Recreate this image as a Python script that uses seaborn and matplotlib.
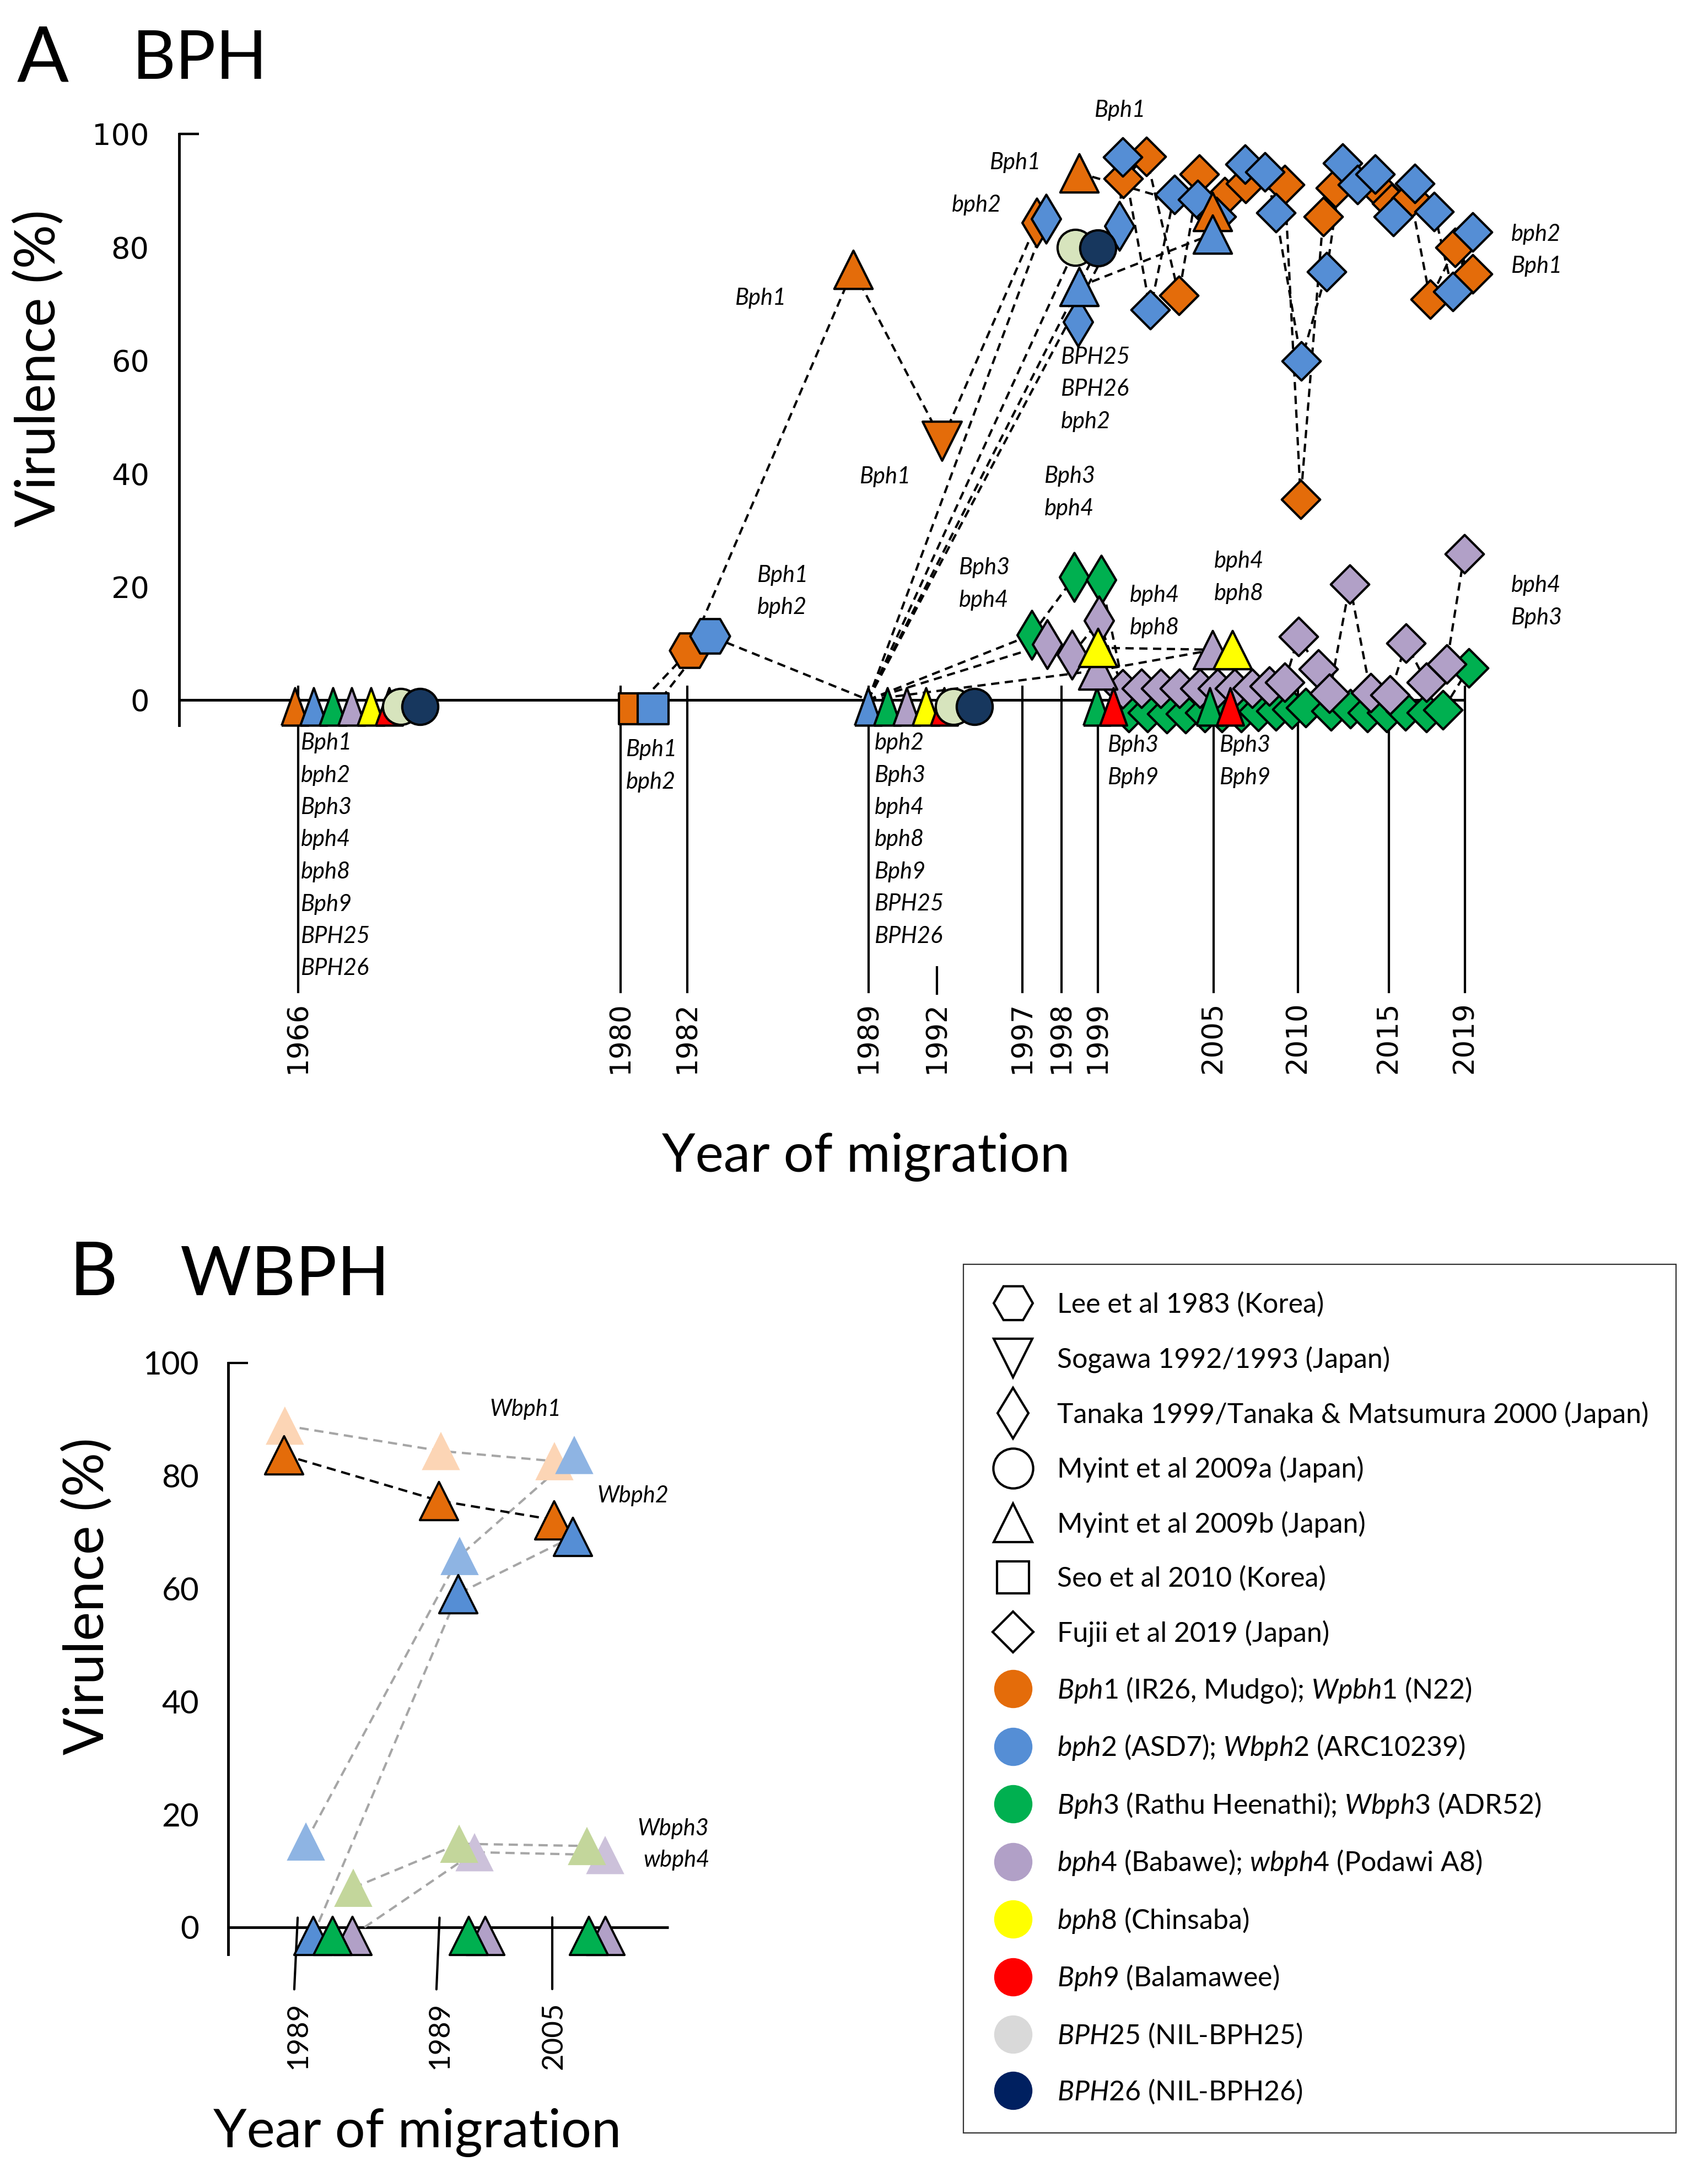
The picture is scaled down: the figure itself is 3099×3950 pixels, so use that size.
import numpy as np
import matplotlib
matplotlib.use("Agg")
import matplotlib.pyplot as plt
from matplotlib.lines import Line2D
from matplotlib.markers import MarkerStyle
import seaborn as sns

sns.set_theme(style="white")
plt.rcParams.update({
    "font.family": ["Lato", "DejaVu Sans"],
    "mathtext.fontset": "custom",
    "mathtext.rm": "Lato",
    "mathtext.it": "Lato:italic",
    "axes.edgecolor": "black",
    "xtick.color": "black",
    "ytick.color": "black",
    "text.color": "black",
    "axes.unicode_minus": False,
})

W, H, DPI = 3099, 3950, 100
fig = plt.figure(figsize=(W / DPI, H / DPI), dpi=DPI, facecolor="white")


def rect(x0, y0, x1, y1):
    return [x0 / W, 1 - y1 / H, (x1 - x0) / W, (y1 - y0) / H]


def ftext(px, py, s, **kw):
    return fig.text(px / W, 1 - py / H, s, **kw)


# ---------------- colours ----------------
ORANGE, BLUE, GREEN, PURPLE = "#E46C0A", "#558ED5", "#00B050", "#B1A0C7"
YELLOW, RED, NIL25, NIL26 = "#FFFF00", "#FF0000", "#D7E4BD", "#17375E"
PEACH, LBLUE, LGREEN, LPURPLE = "#FCD5B5", "#8EB4E3", "#C3D69B", "#CCC1DA"
LEG25, LEG26 = "#D9D9D9", "#002060"
GREY = "#A6A6A6"

# =====================================================================
# DATA  -- Panel A (BPH).  x = year of migration (schematic timeline,
# fractional offsets separate overlapping symbols), y = virulence (%)
# (0 % values are drawn just below the baseline as in the original)
# =====================================================================
year_ticks_a = [1966, 1980, 1982, 1989, 1992, 1997, 1998, 1999, 2005, 2010, 2015, 2019]
timeline_pos_a = [541, 1126, 1247, 1576, 1700, 1855, 1926, 1992, 2202, 2355, 2520, 2658]

# Myint et al 2009b (triangles)
myintb_bph1_x = [1965.86, 1988.40, 1998.48, 2004.94]
myintb_bph1_v = [-1.2, 76.0, 93.1, 86.3]
myintb_bph2_x = [1966.67, 1988.98, 1998.48, 2004.94]
myintb_bph2_v = [-1.2, -1.2, 73.0, 82.3]
myintb_bph3_x = [1967.51, 1989.82, 1998.97, 2004.80]
myintb_bph3_v = [-1.2, -1.2, -1.2, -1.2]
myintb_bph4_x = [1968.32, 1990.67, 1999.00, 2004.94]
myintb_bph4_v = [-1.2, -1.2, 5.2, 8.8]
myintb_bph8_x = [1969.16, 1991.52, 1999.00, 2006.11]
myintb_bph8_v = [-1.2, -1.2, 9.2, 8.8]
myintb_bph9_x = [1969.95, 1992.42, 1999.80, 2005.98]
myintb_bph9_v = [-1.2, -1.2, -1.2, -1.2]

# Myint et al 2009a (circles)
myinta_bph25_x = [1970.45, 1992.97, 1998.38]
myinta_bph25_v = [-1.2, -1.2, 79.9]
myinta_bph26_x = [1971.29, 1994.19, 1999.00]
myinta_bph26_v = [-1.2, -1.2, 79.8]

# Seo et al 2010 (squares), Lee et al 1983 (hexagons), Sogawa (inverted triangle)
seo_x, seo_v = [1980.41, 1980.98], [-1.6, -1.6]
lee_x, lee_v = [1982.09, 1982.87], [8.7, 11.3]
sogawa_x, sogawa_v = [1992.29], [45.8]

# Tanaka 1999 / Tanaka & Matsumura 2000 (thin diamonds)
tanaka_bph1_x, tanaka_bph1_v = [1997.37], [84.3]
tanaka_bph2_x, tanaka_bph2_v = [1997.61, 1998.45, 2000.11], [85.0, 66.8, 83.7]
tanaka_bph3_x, tanaka_bph3_v = [1997.24, 1998.35, 1999.17], [11.5, 21.7, 21.2]
tanaka_bph4_x, tanaka_bph4_v = [1997.63, 1998.29, 1999.06], [9.8, 8.0, 14.0]

# Fujii et al 2019 (diamonds)
fujii_bph1_x = [2000.31, 2001.51, 2003.20, 2004.26, 2005.65, 2006.90, 2009.22, 2010.15,
                2011.39, 2012.06, 2014.67, 2015.14, 2016.16, 2017.17, 2018.48, 2019.41]
fujii_bph1_v = [92.1, 96.0, 71.5, 92.9, 88.9, 91.2, 91.0, 35.4,
                85.4, 90.5, 89.5, 87.7, 88.6, 70.8, 79.9, 75.3]
fujii_bph2_x = [2000.29, 2001.71, 2002.97, 2004.17, 2005.16, 2006.86, 2008.04, 2008.69, 2010.18,
                2011.58, 2012.45, 2013.27, 2014.24, 2015.23, 2016.36, 2017.38, 2018.36, 2019.41]
fujii_bph2_v = [95.9, 68.9, 89.3, 88.4, 85.4, 94.6, 93.3, 86.1, 59.9,
                75.7, 94.8, 91.0, 92.9, 85.4, 91.2, 86.3, 72.1, 82.7]
fujii_bph3_x = [2000.60, 2001.57, 2002.57, 2003.54, 2004.54, 2005.49, 2006.63, 2007.65, 2008.69,
                2009.64, 2010.42, 2011.82, 2012.88, 2013.82, 2014.88, 2015.87, 2016.97, 2017.84, 2019.20]
fujii_bph3_v = [-2.3, -2.3, -2.5, -2.5, -2.3, -2.3, -2.3, -2.1, -2.0,
                -1.7, -1.4, -2.0, -1.6, -2.3, -2.3, -2.0, -2.3, -1.8, 5.6]
fujii_bph4_x = [2000.29, 2001.26, 2002.26, 2003.23, 2004.29, 2005.23, 2006.24, 2007.29, 2008.30, 2009.22,
                2010.03, 2011.12, 2011.73, 2012.85, 2014.00, 2015.06, 2015.90, 2016.97, 2018.04, 2018.97]
fujii_bph4_v = [1.9, 2.0, 2.0, 2.0, 2.0, 2.0, 2.0, 2.0, 2.4, 3.1,
                11.2, 5.4, 1.1, 20.4, 1.2, 0.9, 10.0, 3.1, 6.3, 25.8]

# gene annotations (text blocks)
gene_blocks_a = [
    (1986, 200, ["Bph1"]), (1796, 295, ["Bph1"]), (1727, 372, ["bph2"]),
    (1334, 541, ["Bph1"]), (1560, 865, ["Bph1"]),
    (1925, 648, ["BPH25", "BPH26", "bph2"]), (1895, 864, ["Bph3", "bph4"]),
    (2742, 425, ["bph2", "Bph1"]), (1374, 1044, ["Bph1", "bph2"]),
    (1740, 1030, ["Bph3", "bph4"]), (2050, 1080, ["bph4", "bph8"]),
    (2203, 1018, ["bph4", "bph8"]), (2742, 1062, ["bph4", "Bph3"]),
    (2010, 1352, ["Bph3", "Bph9"]), (2213, 1352, ["Bph3", "Bph9"]),
    (1587, 1348, ["bph2", "Bph3", "bph4", "bph8", "Bph9", "BPH25", "BPH26"]),
    (546, 1348, ["Bph1", "bph2", "Bph3", "bph4", "bph8", "Bph9", "BPH25", "BPH26"]),
    (1136, 1360, ["Bph1", "bph2"]),
]

# =====================================================================
# DATA  -- Panel B (WBPH).  x = collection set index (0: 1989, 1: 1989, 2: 2005)
# =====================================================================
year_labels_b = ["1989", "1989", "2005"]
set_pos_b = [537, 795, 1002]
b_peach_x, b_peach_v = [-0.078, 1.024, 2.019], [88.9, 84.4, 82.6]
b_lblue_x, b_lblue_v = [0.070, 1.188, 2.193], [15.2, 65.8, 83.7]
b_lgreen_x, b_lgreen_v = [0.403, 1.184, 2.304], [7.0, 14.8, 14.4]
b_lpurple_x, b_lpurple_v = [1.319, 2.464], [13.3, 12.8]
b_orange_x, b_orange_v = [-0.085, 1.005, 2.014], [83.7, 75.6, 72.2]
b_blue_x, b_blue_v = [0.120, 1.174, 2.179], [-1.5, 59.1, 69.2]
b_green_x, b_green_v = [0.256, 1.266, 2.319], [-1.5, -1.5, -1.5]
b_purple_x, b_purple_v = [0.395, 1.411, 2.464], [-1.5, -1.5, -1.5]
gene_labels_b = [(888, 2557, "Wbph1"), (1083, 2714, "Wbph2"), (1156, 3318, "Wbph3"), (1167, 3375, "wbph4")]

# =====================================================================
# helpers
# =====================================================================
NARROW = MarkerStyle([(-0.36, -0.5), (0.36, -0.5), (0.0, 0.5), (-0.36, -0.5)])


def schematic_scale(ax, data_anchor, pos_anchor):
    d = np.asarray(data_anchor, float)
    p = np.asarray(pos_anchor, float)
    fwd = lambda x: np.interp(x, d, p)
    inv = lambda y: np.interp(y, p, d)
    ax.set_xscale("function", functions=(fwd, inv))
    return fwd, inv


def pts(ax, x, y, color, marker, size, z, edge="black", lw=3.0):
    sns.scatterplot(x=list(x), y=list(y), ax=ax, color=color, marker=marker,
                    s=size ** 2, edgecolor=edge, linewidth=lw, zorder=z,
                    clip_on=False, legend=False)


def dashed(ax, xs, ys, color="black", lw=3.0, z=2, dash=(3.6, 2.4)):
    ax.plot(xs, ys, color=color, lw=lw, ls=(0, dash), zorder=z, clip_on=False,
            dash_capstyle="butt")


def myint_tri(ax, x, v, color, z):
    x = np.asarray(x); v = np.asarray(v)
    low = v < 0
    if low.any():
        pts(ax, x[low], v[low], color, NARROW, 49, z)
    if (~low).any():
        pts(ax, x[~low], v[~low], color, "^", 50, z)


# =====================================================================
# Panel A
# =====================================================================
axA = fig.add_axes(rect(325, 243, 2900, 1316))
axA.set_facecolor("none")
anchors_y = [1900] + year_ticks_a + [2100]
anchors_p = [541 - 66 * 41.79] + timeline_pos_a + [2658 + 81 * 34.5]
fwdA, invA = schematic_scale(axA, anchors_y, anchors_p)

# dashed connections
dashed(axA, [seo_x[0], lee_x[0], myintb_bph1_x[1], sogawa_x[0], tanaka_bph1_x[0]],
       [seo_v[0], lee_v[0], myintb_bph1_v[1], sogawa_v[0], tanaka_bph1_v[0]])
dashed(axA, [seo_x[1], lee_x[1], myintb_bph2_x[1]], [seo_v[1], lee_v[1], 0])
for tx, tv in [(tanaka_bph2_x[0], tanaka_bph2_v[0]), (myinta_bph25_x[2], myinta_bph25_v[2]),
               (myinta_bph26_x[2], myinta_bph26_v[2]), (tanaka_bph2_x[2], tanaka_bph2_v[2]),
               (tanaka_bph3_x[0], tanaka_bph3_v[0]), (tanaka_bph4_x[0], tanaka_bph4_v[0]),
               (myintb_bph4_x[2], myintb_bph4_v[2])]:
    dashed(axA, [myintb_bph2_x[1], tx], [0, tv])
dashed(axA, [tanaka_bph2_x[2], fujii_bph2_x[0]], [tanaka_bph2_v[2], fujii_bph2_v[0]])
dashed(axA, myintb_bph1_x[2:], myintb_bph1_v[2:])
dashed(axA, myintb_bph2_x[2:], myintb_bph2_v[2:])
dashed(axA, myintb_bph4_x[2:], myintb_bph4_v[2:])
dashed(axA, myintb_bph8_x[2:], myintb_bph8_v[2:])
dashed(axA, tanaka_bph3_x + fujii_bph3_x[:1], tanaka_bph3_v + fujii_bph3_v[:1])
dashed(axA, tanaka_bph4_x + fujii_bph4_x[:1], tanaka_bph4_v + fujii_bph4_v[:1])
for fx, fv in [(fujii_bph3_x, fujii_bph3_v), (fujii_bph4_x, fujii_bph4_v),
               (fujii_bph1_x, fujii_bph1_v), (fujii_bph2_x, fujii_bph2_v)]:
    dashed(axA, fx, fv)

# markers
pts(axA, fujii_bph3_x, fujii_bph3_v, GREEN, "D", 35.5, 4.0)
pts(axA, fujii_bph4_x, fujii_bph4_v, PURPLE, "D", 35.5, 4.1)
pts(axA, fujii_bph1_x, fujii_bph1_v, ORANGE, "D", 35.5, 4.2)
pts(axA, fujii_bph2_x, fujii_bph2_v, BLUE, "D", 35.5, 4.3)
pts(axA, tanaka_bph3_x, tanaka_bph3_v, GREEN, "d", 45, 7.0)
pts(axA, tanaka_bph4_x, tanaka_bph4_v, PURPLE, "d", 45, 7.1)
pts(axA, tanaka_bph1_x, tanaka_bph1_v, ORANGE, "d", 45, 7.2)
pts(axA, tanaka_bph2_x, tanaka_bph2_v, BLUE, "d", 45, 7.3)
for (mx, mv, col, z) in [(myintb_bph1_x, myintb_bph1_v, ORANGE, 8.0),
                         (myintb_bph2_x, myintb_bph2_v, BLUE, 8.1),
                         (myintb_bph3_x, myintb_bph3_v, GREEN, 8.2),
                         (myintb_bph4_x, myintb_bph4_v, PURPLE, 8.3),
                         (myintb_bph8_x, myintb_bph8_v, YELLOW, 8.4),
                         (myintb_bph9_x, myintb_bph9_v, RED, 8.5)]:
    myint_tri(axA, mx, mv, col, z)
pts(axA, myinta_bph25_x, myinta_bph25_v, NIL25, "o", 47, 9.0)
pts(axA, myinta_bph26_x, myinta_bph26_v, NIL26, "o", 47, 9.1)
pts(axA, seo_x[:1], seo_v[:1], ORANGE, "s", 40, 8.6)
pts(axA, seo_x[1:], seo_v[1:], BLUE, "s", 40, 8.7)
pts(axA, lee_x[:1], lee_v[:1], ORANGE, "H", 52, 8.6)
pts(axA, lee_x[1:], lee_v[1:], BLUE, "H", 52, 8.7)
pts(axA, sogawa_x, sogawa_v, ORANGE, "v", 51, 8.6)

# axis decorations
xl = (float(invA(325)), float(invA(2900)))
axA.hlines(0, xl[0], 2019, color="black", lw=3.5, zorder=1.5)
axA.vlines([y for y in year_ticks_a if y != 1992], 2.5, -51.8, color="black", lw=3.0,
           zorder=1, clip_on=False)
axA.vlines([1992], -47.1, -52.1, color="black", lw=3.0, zorder=1, clip_on=False)
for yr in year_ticks_a:
    axA.text(yr, -53.3, str(yr), rotation=90, ha="center", va="top", fontsize=37,
             family="DejaVu Sans", clip_on=False)
axA.set_xlim(*xl)
axA.set_ylim(-4.5, 100)
axA.set_xticks([])
axA.set_yticks([0, 20, 40, 60, 80, 100])
axA.tick_params(axis="y", direction="out", length=25, width=3.2, labelsize=39, pad=14)
axA.yaxis.get_major_ticks()[0].tick1line.set_visible(False)
for lab in axA.get_yticklabels():
    lab.set_fontfamily("DejaVu Sans")
for s in ["top", "right", "bottom"]:
    axA.spines[s].set_visible(False)
axA.spines["left"].set_linewidth(3.5)
axA.plot([0, 36 / 2575], [100, 100], transform=axA.get_yaxis_transform(), color="black",
         lw=3.2, clip_on=False, solid_capstyle="butt")
axA.set_xlabel("")
axA.set_ylabel("")

for (px, py, lines) in gene_blocks_a:
    for i, s in enumerate(lines):
        ftext(px, py + i * 58.5, s, fontsize=30, style="italic", va="center", ha="left")

ftext(31, 147, "A", fontsize=100, va="baseline", ha="left")
ftext(240, 143, "BPH", fontsize=88, va="baseline", ha="left")
ftext(71, 668, "Virulence (%)", fontsize=72, rotation=90, ha="center", va="center")
ftext(1571, 2126, "Year of migration", fontsize=70, ha="center", va="baseline")

# =====================================================================
# Panel B
# =====================================================================
axB = fig.add_axes(rect(414, 2473, 1300, 3546))
axB.set_facecolor("none")
fwdB, invB = schematic_scale(axB, [-5, 0, 1, 2, 8],
                             [537 - 5 * 258, set_pos_b[0], set_pos_b[1], set_pos_b[2], 1002 + 6 * 207])

dashed(axB, b_peach_x, b_peach_v, color=GREY, dash=(4, 2.5))
dashed(axB, b_lblue_x, b_lblue_v, color=GREY, dash=(4, 2.5))
dashed(axB, b_blue_x, b_blue_v, color=GREY, dash=(4, 2.5))
dashed(axB, b_lgreen_x, b_lgreen_v, color=GREY, dash=(4, 2.5))
dashed(axB, b_purple_x[:1] + b_lpurple_x, b_purple_v[:1] + b_lpurple_v, color=GREY, dash=(4, 2.5))
dashed(axB, b_orange_x, b_orange_v, color="black", dash=(4, 2.5))

pts(axB, b_peach_x, b_peach_v, PEACH, "^", 50, 3.0, edge="none", lw=0)
pts(axB, b_lpurple_x, b_lpurple_v, LPURPLE, "^", 50, 3.1, edge="none", lw=0)
pts(axB, b_lgreen_x, b_lgreen_v, LGREEN, "^", 50, 3.2, edge="none", lw=0)
pts(axB, b_lblue_x, b_lblue_v, LBLUE, "^", 50, 3.3, edge="none", lw=0)
pts(axB, b_orange_x, b_orange_v, ORANGE, "^", 50, 4.0, lw=2.8)
pts(axB, b_blue_x, b_blue_v, BLUE, "^", 50, 4.1, lw=2.8)
pts(axB, b_purple_x, b_purple_v, PURPLE, "^", 50, 4.2, lw=2.8)
pts(axB, b_green_x, b_green_v, GREEN, "^", 50, 4.3, lw=2.8)

xlB = (float(invB(414)), float(invB(1300)))
axB.hlines(0, xlB[0], 3.02, color="black", lw=3.5, zorder=1.5)
for i in range(3):
    tilt = 0.012 if i < 2 else 0.0
    axB.plot([i + tilt, i - tilt], [1.7, -11.0], color="black", lw=3.0, zorder=1, clip_on=False)
    axB.text(i + 0.015, -13.2, year_labels_b[i], rotation=90, ha="center", va="top", fontsize=38,
             clip_on=False)
axB.set_xlim(*xlB)
axB.set_ylim(-4.8, 100)
axB.set_xticks([])
axB.set_yticks([0, 20, 40, 60, 80, 100])
axB.tick_params(axis="y", direction="out", length=22, width=3.0, labelsize=42, pad=16)
axB.yaxis.get_major_ticks()[0].tick1line.set_visible(False)
for s in ["top", "right", "bottom"]:
    axB.spines[s].set_visible(False)
axB.spines["left"].set_linewidth(3.5)
axB.plot([0, 36 / 886], [100, 100], transform=axB.get_yaxis_transform(), color="black",
         lw=3.0, clip_on=False, solid_capstyle="butt")
axB.set_xlabel("")
axB.set_ylabel("")

for (px, py, s) in gene_labels_b:
    ftext(px, py, s, fontsize=30, style="italic", va="center", ha="left")

ftext(125, 2350, "B", fontsize=98, va="baseline", ha="left")
ftext(326, 2350, "WBPH", fontsize=90, va="baseline", ha="left")
ftext(159, 2896, "Virulence (%)", fontsize=72, rotation=90, ha="center", va="center")
ftext(757, 3896, "Year of migration", fontsize=70, ha="center", va="baseline")

# =====================================================================
# Legend
# =====================================================================
def h_open(marker, ms):
    return Line2D([], [], ls="none", marker=marker, ms=ms, mfc="white", mec="black", mew=3)


def h_fill(color):
    return Line2D([], [], ls="none", marker="o", ms=50, mfc=color, mec="none", mew=0)


legend_handles = [h_open("H", 51), h_open("v", 50), h_open("d", 47), h_open("o", 52),
                  h_open("^", 51), h_open("s", 42), h_open("D", 37.5),
                  h_fill(ORANGE), h_fill(BLUE), h_fill(GREEN), h_fill(PURPLE),
                  h_fill(YELLOW), h_fill(RED), h_fill(LEG25), h_fill(LEG26)]
legend_labels = [
    "Lee et al 1983 (Korea)",
    "Sogawa 1992/1993 (Japan)",
    "Tanaka 1999/Tanaka & Matsumura 2000 (Japan)",
    "Myint et al 2009a (Japan)",
    "Myint et al 2009b (Japan)",
    "Seo et al 2010 (Korea)",
    "Fujii et al 2019 (Japan)",
    r"$\mathit{Bph1}$ (IR26, Mudgo); $\mathit{Wpbh1}$ (N22)",
    r"$\mathit{bph2}$ (ASD7); $\mathit{Wbph2}$ (ARC10239)",
    r"$\mathit{Bph3}$ (Rathu Heenathi); $\mathit{Wbph3}$ (ADR52)",
    r"$\mathit{bph4}$ (Babawe); $\mathit{wbph4}$ (Podawi A8)",
    r"$\mathit{bph8}$ (Chinsaba)",
    r"$\mathit{Bph9}$ (Balamawee)",
    r"$\mathit{BPH25}$ (NIL-BPH25)",
    r"$\mathit{BPH26}$ (NIL-BPH26)",
]
leg = fig.legend(legend_handles, legend_labels, loc="upper left",
                 bbox_to_anchor=(1748 / W, 1 - 2294 / H), bbox_transform=fig.transFigure,
                 frameon=True, fancybox=False, edgecolor="black", fontsize=36,
                 borderpad=1.0, handlelength=1.6, handletextpad=0.8, labelspacing=1.03,
                 borderaxespad=0, numpoints=1)
leg.get_frame().set_linewidth(1.6)

fig.savefig("out.png", dpi=DPI, facecolor="white")
